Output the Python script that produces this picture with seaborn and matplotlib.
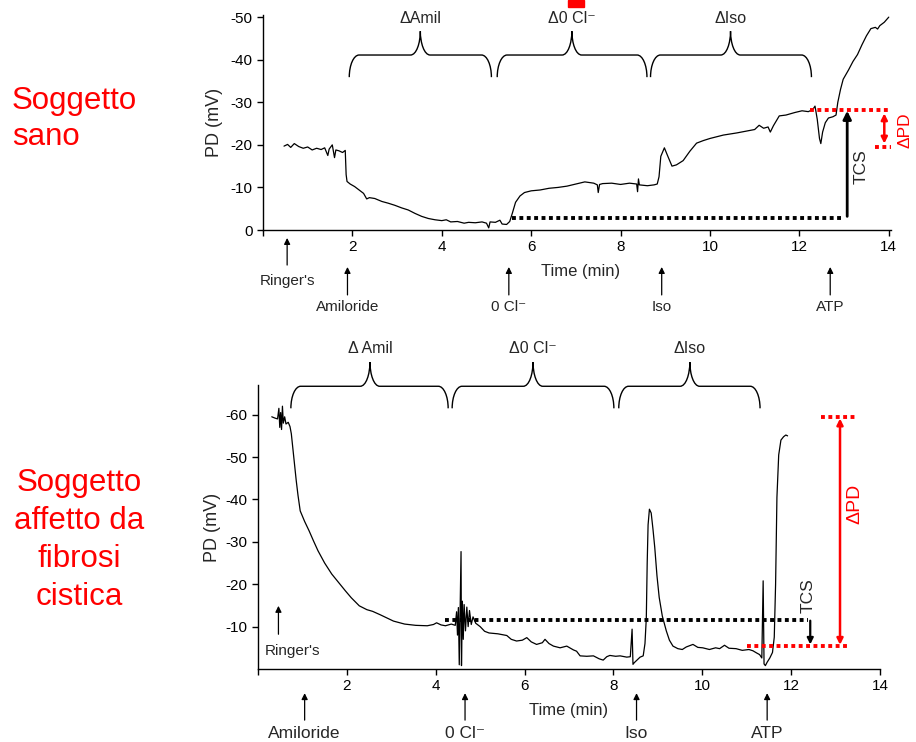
import matplotlib
matplotlib.use("Agg")
import matplotlib.pyplot as plt
from matplotlib.path import Path
from matplotlib.patches import PathPatch, Rectangle
import seaborn as sns
import pandas as pd

# tracciato soggetto sano (tempo in min, PD in mV)
sano_t = [0.47, 0.55, 0.62, 0.70, 0.80, 0.90, 1.00, 1.10, 1.20, 1.30, 1.38, 1.45, 1.48, 1.55,
          1.60, 1.63, 1.70, 1.78, 1.84, 1.86, 1.88, 1.95, 2.05, 2.15, 2.25, 2.32, 2.38, 2.50,
          2.66, 2.80, 2.95, 3.10, 3.25, 3.40, 3.55, 3.70, 3.85, 4.00, 4.10, 4.20, 4.35, 4.50,
          4.60, 4.75, 4.90, 5.00, 5.05, 5.08, 5.20, 5.30, 5.35, 5.45, 5.52, 5.58, 5.65, 5.75,
          5.85, 6.00, 6.20, 6.40, 6.60, 6.80, 7.00, 7.20, 7.40, 7.48, 7.50, 7.53, 7.60, 7.80,
          8.00, 8.20, 8.36, 8.38, 8.40, 8.42, 8.60, 8.75, 8.82, 8.86, 8.90, 8.98, 9.05, 9.15,
          9.25, 9.40, 9.55, 9.70, 9.85, 10.00, 10.30, 10.60, 10.85, 11.00, 11.10, 11.20, 11.30,
          11.35, 11.42, 11.55, 11.70, 11.90, 12.06, 12.20, 12.30, 12.35, 12.40, 12.45, 12.48,
          12.52, 12.58, 12.65, 12.75, 12.82, 12.86, 12.92, 12.98, 13.10, 13.20, 13.30, 13.40,
          13.50, 13.60, 13.70, 13.75, 13.80, 13.90, 14.00]
sano_pd = [-19.7, -20.1, -19.4, -20.3, -19.6, -19.2, -19.5, -18.8, -19.2, -18.9, -19.3, -17.5,
           -19.0, -20.0, -17.0, -18.8, -18.6, -18.2, -18.7, -13.0, -11.4, -10.8, -10.2, -9.4,
           -8.6, -7.3, -7.6, -7.4, -6.7, -6.3, -5.8, -5.2, -4.7, -3.9, -3.2, -2.7, -2.4, -2.2,
           -2.4, -1.9, -2.0, -1.6, -1.8, -1.7, -1.9, -1.6, -0.5, -1.9, -1.8, -2.3, -1.4, -1.3,
           -2.0, -4.0, -6.5, -8.0, -8.8, -9.2, -9.4, -9.8, -10.0, -10.3, -10.8, -11.3, -11.0,
           -10.6, -8.8, -10.7, -10.9, -11.0, -10.7, -11.0, -10.8, -9.0, -12.0, -10.6, -10.4,
           -10.6, -10.8, -12.5, -17.3, -19.3, -17.5, -15.0, -15.3, -16.3, -18.5, -20.4, -21.0,
           -21.5, -22.3, -22.8, -23.3, -23.6, -24.6, -23.9, -24.2, -23.0, -24.5, -26.8, -27.0,
           -27.6, -28.0, -27.8, -28.3, -29.1, -26.0, -21.5, -20.3, -23.0, -25.2, -26.3, -26.6,
           -27.0, -30.0, -33.0, -35.4, -37.6, -39.6, -41.2, -43.5, -45.6, -47.3, -47.6, -47.2,
           -48.0, -48.8, -50.0]

# tracciato soggetto con fibrosi cistica
fc_t = [0.31, 0.38, 0.44, 0.47, 0.49, 0.51, 0.53, 0.55, 0.57, 0.60, 0.63, 0.68, 0.72, 0.75,
        0.78, 0.82, 0.86, 0.90, 0.95, 1.05, 1.15, 1.25, 1.35, 1.50, 1.66, 1.80, 1.97, 2.10,
        2.28, 2.45, 2.58, 2.75, 2.89, 3.05, 3.30, 3.55, 3.81, 3.95, 4.02, 4.12, 4.22, 4.35,
        4.44, 4.47, 4.49, 4.51, 4.53, 4.55, 4.57, 4.58, 4.60, 4.62, 4.64, 4.67, 4.70, 4.73,
        4.76, 4.80, 4.84, 4.90, 5.00, 5.10, 5.20, 5.40, 5.60, 5.70, 5.82, 5.95, 6.05, 6.15,
        6.27, 6.40, 6.46, 6.55, 6.65, 6.80, 6.95, 7.10, 7.17, 7.25, 7.40, 7.55, 7.68, 7.77,
        7.85, 7.92, 8.05, 8.15, 8.30, 8.38, 8.42, 8.44, 8.47, 8.52, 8.60, 8.67, 8.71, 8.74,
        8.76, 8.78, 8.81, 8.85, 8.89, 8.93, 8.98, 9.03, 9.10, 9.19, 9.26, 9.34, 9.45, 9.55,
        9.64, 9.79, 9.90, 10.01, 10.16, 10.30, 10.39, 10.50, 10.60, 10.76, 10.90, 11.05, 11.14,
        11.22, 11.29, 11.34, 11.37, 11.39, 11.42, 11.46, 11.52, 11.58, 11.62, 11.65, 11.68,
        11.72, 11.77, 11.83, 11.88, 11.92]
fc_pd = [-59.5, -59.2, -59.0, -61.5, -57.0, -60.5, -56.5, -62.0, -58.0, -59.5, -57.8, -58.2,
         -57.2, -55.5, -52.5, -48.5, -44.5, -41.0, -37.3, -34.8, -32.6, -30.2, -27.9, -25.0,
         -22.4, -20.6, -18.4, -16.8, -14.9, -14.0, -13.6, -12.8, -12.1, -11.3, -10.6, -10.3,
         -10.2, -10.5, -10.9, -10.4, -10.2, -10.6, -10.3, -13.5, -8.0, -14.5, -1.0, -15.0,
         -27.7, -0.8, -16.0, -7.0, -15.2, -9.0, -14.6, -10.0, -13.8, -10.5, -12.3, -10.8,
         -10.0, -8.9, -8.5, -8.3, -7.9, -7.0, -6.6, -6.8, -7.4, -6.4, -5.8, -6.2, -7.0, -6.0,
         -5.4, -5.0, -5.4, -4.5, -4.2, -3.1, -3.0, -3.1, -2.4, -2.1, -2.9, -3.2, -3.0, -3.1,
         -2.8, -2.9, -9.4, -1.1, -1.5, -2.0, -2.8, -3.1, -6.0, -12.0, -25.0, -34.0, -37.7,
         -36.8, -33.0, -28.7, -22.0, -16.9, -12.5, -9.0, -6.8, -5.4, -4.8, -4.6, -5.2, -5.8,
         -5.1, -5.0, -4.6, -5.0, -4.8, -5.6, -4.9, -4.8, -4.4, -4.6, -4.3, -3.8, -3.4, -2.6,
         -20.8, -1.2, -0.8, -1.6, -2.6, -3.9, -7.5, -20.0, -40.5, -50.5, -54.0, -54.8, -55.2,
         -55.0]

# fasi (inizio, fine, punta) e relative etichette
sano_fasi = [(1.93, 5.11, 3.52), (5.24, 8.59, 6.91), (8.67, 12.27, 10.46)]
sano_fasi_lab = ["ΔAmil", "Δ0 Cl⁻", "ΔIso"]
fc_fasi = [(0.74, 4.28, 2.52), (4.37, 8.01, 6.19), (8.12, 11.30, 9.72)]
fc_fasi_lab = ["Δ Amil", "Δ0 Cl⁻", "ΔIso"]

# aggiunte di farmaci (tempo)
sano_stim = ["Ringer's", "Amiloride", "0 Cl⁻", "Iso", "ATP"]
sano_stim_t = [0.54, 1.89, 5.50, 8.92, 12.69]
fc_stim = ["Amiloride", "0 Cl⁻", "Iso", "ATP"]
fc_stim_t = [1.05, 4.66, 8.52, 11.46]

FONT = ["Liberation Sans", "DejaVu Sans"]
RED = "#ff0000"


def brace(ax, x0, x1, xt, yb, ye, ytip, r=0.22, rt=0.22):
    v = [(x0, ye),
         (x0, yb + 0.45 * (ye - yb)), (x0 + 0.45 * r, yb), (x0 + r, yb),
         (xt - rt, yb),
         (xt - 0.4 * rt, yb), (xt, yb + 0.5 * (ytip - yb)), (xt, ytip),
         (xt, yb + 0.5 * (ytip - yb)), (xt + 0.4 * rt, yb), (xt + rt, yb),
         (x1 - r, yb),
         (x1 - 0.45 * r, yb), (x1, yb + 0.45 * (ye - yb)), (x1, ye)]
    c = [Path.MOVETO, Path.CURVE4, Path.CURVE4, Path.CURVE4, Path.LINETO,
         Path.CURVE4, Path.CURVE4, Path.CURVE4, Path.CURVE4, Path.CURVE4, Path.CURVE4,
         Path.LINETO, Path.CURVE4, Path.CURVE4, Path.CURVE4]
    ax.add_patch(PathPatch(Path(v, c), fill=False, lw=1.0, color="k", clip_on=False))


def dotted(ax, x0, x1, y, color):
    ax.plot([x0, x1], [y, y], color=color, lw=2.8, linestyle=(0, (1, 0.9)),
            solid_capstyle="butt", clip_on=False)


def arrow(ax, x, y0, y1, color, both=False, lw=2.0, ms=12):
    ax.annotate("", xy=(x, y1), xytext=(x, y0),
                arrowprops=dict(arrowstyle="<|-|>" if both else "-|>", color=color,
                                lw=lw, mutation_scale=ms, shrinkA=0, shrinkB=0),
                annotation_clip=False)


def stim(ax, x, y_tail, y_head, y_lab, label, fs):
    tr = ax.get_xaxis_transform()
    ax.annotate("", xy=(x, y_head), xytext=(x, y_tail), xycoords=tr, textcoords=tr,
                arrowprops=dict(arrowstyle="-|>", color="k", lw=0.9, mutation_scale=9,
                                shrinkA=0, shrinkB=0),
                annotation_clip=False)
    ax.text(x, y_lab, label, transform=tr, ha="center", va="center", fontsize=fs,
            family=FONT)


def style_axes(ax):
    for s in ["left", "bottom"]:
        ax.spines[s].set_linewidth(1.0)
        ax.spines[s].set_color("k")
    ax.tick_params(direction="out", length=4, width=1, labelsize=11, colors="k")


sns.set_style("ticks")
plt.rcParams["font.family"] = FONT
plt.rcParams["axes.unicode_minus"] = False

fig = plt.figure(figsize=(9.16, 7.42), dpi=100)

# ---- soggetto sano ----
ax1 = fig.add_axes([263 / 916, 1 - 230 / 742, 628 / 916, 215 / 742])
df1 = pd.DataFrame({"t": sano_t, "pd": sano_pd})
sns.lineplot(data=df1, x="t", y="pd", ax=ax1, color="k", lw=0.9,
             estimator=None, sort=False)
ax1.set_xlim(0, 14.05)
ax1.set_ylim(0, -50.5)
ax1.set_xticks(range(0, 15, 2))
ax1.set_xticklabels([""] + [str(i) for i in range(2, 15, 2)])
ax1.set_yticks(range(-50, 1, 10))
sns.despine(ax=ax1)
style_axes(ax1)
ax1.set_ylabel("PD (mV)", fontsize=13)
ax1.yaxis.set_label_coords(-0.064, 0.5)
ax1.set_xlabel("Time (min)", fontsize=12)
ax1.xaxis.set_label_coords(0.505, -0.16)

for (x0, x1, xt), lab in zip(sano_fasi, sano_fasi_lab):
    brace(ax1, x0, x1, xt, -41.1, -35.9, -46.7)
    ax1.text(xt, -49.6, lab, ha="center", va="center", fontsize=11.5)

dotted(ax1, 5.57, 13.0, -2.8, "k")
arrow(ax1, 13.07, -3.2, -28.0, "k", lw=2.0, ms=12)
ax1.text(13.38, -15.0, "TCS", rotation=90, ha="center", va="center", fontsize=12.5)
dotted(ax1, 12.24, 14.0, -28.2, RED)
dotted(ax1, 13.69, 14.05, -19.6, RED)
arrow(ax1, 13.9, -20.3, -27.4, RED, both=True, lw=1.8, ms=9)
ax1.text(14.36, -23.5, "ΔPD", rotation=90, ha="center", va="center", fontsize=12.5,
         color=RED)

for lab, t in zip(sano_stim, sano_stim_t):
    if lab == "Ringer's":
        stim(ax1, t, -0.163, -0.037, -0.237, lab, 11)
    else:
        stim(ax1, t, -0.302, -0.172, -0.358, lab, 11)

# ---- soggetto con fibrosi cistica ----
ax2 = fig.add_axes([258 / 916, 1 - 669 / 742, 622 / 916, 284 / 742])
df2 = pd.DataFrame({"t": fc_t, "pd": fc_pd})
sns.lineplot(data=df2, x="t", y="pd", ax=ax2, color="k", lw=0.9,
             estimator=None, sort=False)
ax2.set_xlim(0, 14)
ax2.set_ylim(0, -67)
ax2.set_xticks(range(0, 15, 2))
ax2.set_xticklabels([""] + [str(i) for i in range(2, 15, 2)])
ax2.set_yticks(range(-60, -9, 10))
sns.despine(ax=ax2)
style_axes(ax2)
ax2.set_ylabel("PD (mV)", fontsize=13)
ax2.yaxis.set_label_coords(-0.06, 0.5)
ax2.set_xlabel("Time (min)", fontsize=12)
ax2.xaxis.set_label_coords(0.5, -0.118)

for (x0, x1, xt), lab in zip(fc_fasi, fc_fasi_lab):
    brace(ax2, x0, x1, xt, -66.7, -61.5, -72.4)
    ax2.text(xt, -75.7, lab, ha="center", va="center", fontsize=11.5)

dotted(ax2, 4.2, 12.38, -11.6, "k")
arrow(ax2, 12.43, -11.4, -5.8, "k", lw=1.6, ms=9)
ax2.text(12.38, -17.2, "TCS", rotation=90, ha="center", va="center", fontsize=12.5)
dotted(ax2, 11.0, 13.28, -5.4, RED)
dotted(ax2, 12.68, 13.44, -59.4, RED)
arrow(ax2, 13.1, -5.7, -59.1, RED, both=True, lw=1.8, ms=9)
ax2.text(13.44, -38.9, "ΔPD", rotation=90, ha="center", va="center", fontsize=14,
         color=RED)

ax2.annotate("", xy=(0.46, -14.9), xytext=(0.46, -8.2),
             arrowprops=dict(arrowstyle="-|>", color="k", lw=0.9, mutation_scale=9,
                             shrinkA=0, shrinkB=0))
ax2.text(0.77, -4.3, "Ringer's", ha="center", va="center", fontsize=11)
for lab, t in zip(fc_stim, fc_stim_t):
    stim(ax2, t, -0.18, -0.085, -0.228, lab, 12.5)

# ---- etichette a sinistra ----
fig.text(12 / 916, 1 - 119 / 742, "Soggetto\nsano", ha="left", va="center",
         fontsize=22.5, color=RED, linespacing=1.3)
fig.text(79 / 916, 1 - 540 / 742, "Soggetto\naffetto da\nfibrosi\ncistica",
         ha="center", va="center", fontsize=22.5, color=RED, linespacing=1.34)
fig.patches.append(Rectangle((568 / 916, 1 - 7 / 742), 16 / 916, 7 / 742,
                             transform=fig.transFigure, color=RED))

fig.savefig("out.png", dpi=100)
